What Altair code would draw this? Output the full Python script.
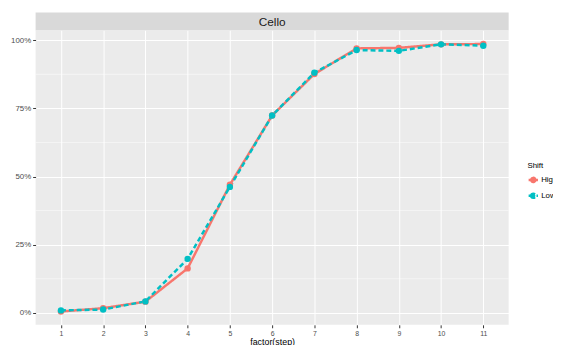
import altair as alt
import pandas as pd

steps = list(range(1, 12))
high = [0.005, 0.017, 0.041, 0.163, 0.470, 0.724, 0.876, 0.970, 0.972, 0.985, 0.986]
low = [0.009, 0.012, 0.042, 0.198, 0.462, 0.724, 0.881, 0.964, 0.961, 0.985, 0.980]
shifts = ["High", "Low"]
colors = ["#F8766D", "#00BFC4"]
major_y = [0, 0.25, 0.5, 0.75, 1.0]
minor_y = [0.125, 0.375, 0.625, 0.875]
panel_title = "Cello"

df = pd.DataFrame({
    "step": steps * 2,
    "value": high + low,
    "Shift": ["High"] * len(steps) + ["Low"] * len(steps),
})
minor_df = pd.DataFrame({"value": minor_y})

W, H = 480, 299
xs = alt.Scale(domain=[0.4, 11.6], nice=False, zero=False)
ys = alt.Scale(domain=[-0.044, 1.037], nice=False, zero=False)
cs = alt.Scale(domain=shifts, range=colors)

y_axis = alt.Axis(
    values=major_y, format=".0%", title=None,
    labelFontSize=8, labelColor="#4D4D4D", labelPadding=2,
    tickColor="#333333", tickSize=3, domain=False,
    grid=True, gridColor="white", gridWidth=1)
x_axis = alt.Axis(
    values=steps, format="d", title="factor(step)", titleFontSize=9,
    titleFontWeight="normal", titleColor="#000000", titlePadding=1,
    labelFontSize=7, labelColor="#4D4D4D", labelPadding=2,
    tickColor="#333333", tickSize=3, domain=False,
    grid=True, gridColor="white", gridWidth=1)

base = alt.Chart(df).encode(
    x=alt.X("step:Q", scale=xs, axis=x_axis),
    y=alt.Y("value:Q", scale=ys, axis=y_axis),
    color=alt.Color("Shift:N", scale=cs, legend=alt.Legend(
        title="Shift", orient="none", legendX=499, legendY=134,
        titleFontSize=8, titleFontWeight="normal", titleColor="#000000",
        labelFontSize=8, labelColor="#000000",
        symbolType="M-1,0L1,0M-0.45,0A0.45,0.45,0,1,1,0.45,0A0.45,0.45,0,1,1,-0.45,0Z",
        symbolSize=90, symbolStrokeWidth=2.5, rowPadding=0, titlePadding=4, labelOffset=2)),
)

minor = alt.Chart(minor_df).mark_rule(color="white", strokeWidth=0.5).encode(
    y=alt.Y("value:Q", scale=ys, axis=y_axis)
)

lines = base.mark_line(strokeWidth=2.5).encode(
    strokeDash=alt.StrokeDash("Shift:N", scale=alt.Scale(domain=shifts, range=[[1, 0], [5, 3]]), legend=None)
)
points = base.mark_point(filled=True, size=42, opacity=1)

strip_bg = alt.Chart(pd.DataFrame({"t": [panel_title]})).mark_rect(color="#D9D9D9").encode(
    x=alt.value(0), x2=alt.value(W), y=alt.value(-18), y2=alt.value(0)
)
strip_text = alt.Chart(pd.DataFrame({"t": [panel_title]})).mark_text(
    fontSize=12, color="#1A1A1A", baseline="middle", align="center", font="Liberation Sans"
).encode(x=alt.value(W / 2), y=alt.value(-8), text="t:N")

chart = alt.layer(minor, lines, points, strip_bg, strip_text).properties(
    width=W, height=H,
    autosize=alt.AutoSizeParams(type="none"),
    padding={"left": 28, "top": 20, "right": 45, "bottom": 18},
).configure(font="Liberation Sans").configure_view(fill="#EBEBEB", stroke=None)

chart.save("out.html", embed_options={"renderer": "svg", "actions": False})
